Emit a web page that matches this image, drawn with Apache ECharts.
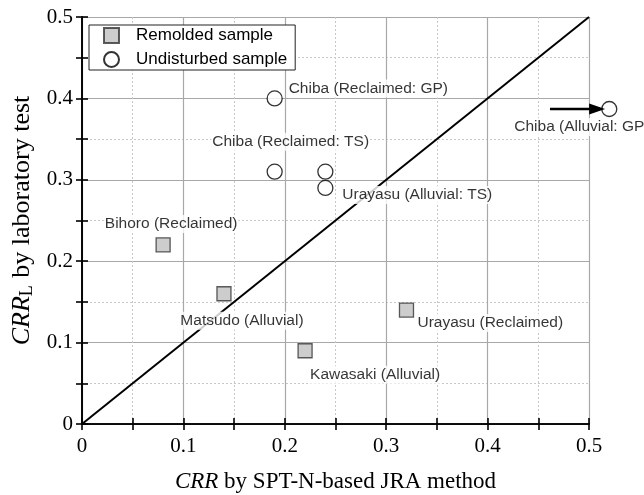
<!DOCTYPE html>
<html><head><meta charset="utf-8">
<script src="https://cdn.jsdelivr.net/npm/echarts@6/dist/echarts.min.js"></script>
<style>html,body{margin:0;padding:0;background:#fff}#c{width:644px;height:495px}</style>
</head><body><div id="c"></div>
<script>
const xTicks = [0, 0.1, 0.2, 0.3, 0.4, 0.5];
const remoldedX = [0.08, 0.14, 0.22, 0.32];
const remoldedY = [0.22, 0.16, 0.09, 0.14];
const remoldedNames = ['Bihoro (Reclaimed)', 'Matsudo (Alluvial)', 'Kawasaki (Alluvial)', 'Urayasu (Reclaimed)'];
const undisturbedX = [0.19, 0.19, 0.24, 0.24, 0.52];
const undisturbedY = [0.40, 0.31, 0.31, 0.29, 0.387];
const undisturbedNames = ['Chiba (Reclaimed: GP)', 'Chiba (Reclaimed: TS)', '', 'Urayasu (Alluvial: TS)', 'Chiba (Alluvial: GP)'];
const arrowX = [0.4615, 0.508];
const arrowY = [0.387, 0.387];
const lineX = [0, 0.5];
const lineY = [0, 0.5];

const remLabel = [
  {align:'center', offset:[8,-21]},
  {align:'center', offset:[18,27]},
  {align:'left', offset:[4,24]},
  {align:'left', offset:[10,13]}
];
const undLabel = [
  {align:'left', offset:[13,-10]},
  {align:'center', offset:[16,-30]},
  null,
  {align:'left', offset:[16,7]},
  {align:'left', offset:[-96,18]}
];
const labelFont = {fontFamily:'Liberation Sans, Arial, sans-serif', fontSize:15.5, color:'#000', backgroundColor:'#fff', padding:[1,1]};

function pts(xs, ys, names, lab) {
  return xs.map((x,i) => {
    const d = {value:[x, ys[i]], name:names[i]};
    if (lab[i] && names[i]) {
      d.label = Object.assign({show:true, position:'inside', verticalAlign:'middle', formatter:'{b}'}, labelFont, lab[i]);
    } else {
      d.label = {show:false};
    }
    return d;
  });
}

const serif = 'Liberation Serif, Times New Roman, serif';
const chart = echarts.init(document.getElementById('c'), null, {renderer:'canvas'});
const gridPos = {left:82, top:17, right:55, bottom:71, containLabel:false, outerBoundsMode:'none'};
const tickAxis = (pos, gi) => ({
  type:'value', min:0, max:0.5, interval:0.05, gridIndex:gi, position:pos,
  axisLine:{show:true, lineStyle:{color:'#000', width:1.6}},
  axisTick:{show:true, inside:true, length:6, lineStyle:{color:'#000', width:1.6}},
  axisLabel:{show:false}, splitLine:{show:false}
});
const fmt = v => String(+v.toFixed(2));
chart.setOption({
  animation:false,
  backgroundColor:'#fff',
  grid:[Object.assign({}, gridPos), Object.assign({}, gridPos)],
  legend:{
    orient:'vertical', left:89, top:25, itemWidth:15, itemHeight:15, itemGap:7,
    borderColor:'#222', borderWidth:1, backgroundColor:'#fff', padding:[2,8,2,14],
    textStyle:{fontFamily:'Liberation Sans, Arial, sans-serif', fontSize:17, color:'#000', padding:[0,0,0,12]},
    data:[{name:'Remolded sample', icon:'rect'}, {name:'Undisturbed sample', icon:'circle'}]
  },
  xAxis:[
    {
      type:'value', min:0, max:0.5, interval:0.1, gridIndex:0, position:'bottom',
      name:'{i|CRR} by SPT-N-based JRA method', nameLocation:'middle', nameGap:46,
      nameTextStyle:{fontFamily:serif, fontSize:23, color:'#000', rich:{i:{fontFamily:serif, fontSize:23, fontStyle:'italic', color:'#000'}}},
      axisLine:{show:false}, axisTick:{show:false},
      axisLabel:{fontFamily:serif, fontSize:21, color:'#000', margin:12, formatter:fmt},
      splitLine:{show:true, lineStyle:{color:'#a8a8a8', width:1.2}},
      minorTick:{show:false, splitNumber:2},
      minorSplitLine:{show:true, lineStyle:{color:'#c8c8c8', type:[2,2], width:1}}
    },
    tickAxis('bottom', 1),
    tickAxis('top', 1)
  ],
  yAxis:[
    {
      type:'value', min:0, max:0.5, interval:0.1, gridIndex:0, position:'left',
      name:'{i|CRR}{s|L} by laboratory test', nameLocation:'middle', nameGap:46, nameRotate:90,
      nameTextStyle:{fontFamily:serif, fontSize:26, color:'#000', rich:{
        i:{fontFamily:serif, fontSize:26, fontStyle:'italic', color:'#000'},
        s:{fontFamily:serif, fontSize:18, color:'#000', verticalAlign:'bottom', padding:[10,1,0,0]}
      }},
      axisLine:{show:false}, axisTick:{show:false},
      axisLabel:{fontFamily:serif, fontSize:21, color:'#000', margin:9, formatter:fmt},
      splitLine:{show:true, lineStyle:{color:'#a8a8a8', width:1.2}},
      minorTick:{show:false, splitNumber:2},
      minorSplitLine:{show:true, lineStyle:{color:'#c8c8c8', type:[2,2], width:1}}
    },
    tickAxis('left', 1),
    tickAxis('right', 1)
  ],
  series:[
    {
      type:'line', name:'1:1', data:lineX.map((x,i)=>[x, lineY[i]]), showSymbol:false, z:1,
      lineStyle:{color:'#000', width:2}, silent:true
    },
    {
      type:'scatter', name:'Remolded sample', symbol:'rect', symbolSize:14, z:5, clip:false,
      itemStyle:{color:'#c0c0c0', borderColor:'#333', borderWidth:1.3},
      data:pts(remoldedX, remoldedY, remoldedNames, remLabel)
    },
    {
      type:'scatter', name:'Undisturbed sample', symbol:'circle', symbolSize:15, z:6, clip:false,
      itemStyle:{color:'#fff', borderColor:'#000', borderWidth:1.3},
      data:pts(undisturbedX, undisturbedY, undisturbedNames, undLabel)
    },
    {
      type:'line', name:'arrow', clip:false, z:6, silent:true,
      data:[
        {value:[arrowX[0], arrowY[0]], symbol:'none'},
        {value:[arrowX[1], arrowY[1]], symbol:'triangle', symbolSize:[11,16], symbolRotate:-90}
      ],
      showSymbol:true, showAllSymbol:true,
      itemStyle:{color:'#000'},
      lineStyle:{color:'#000', width:2.5}
    }
  ]
});
</script></body></html>
